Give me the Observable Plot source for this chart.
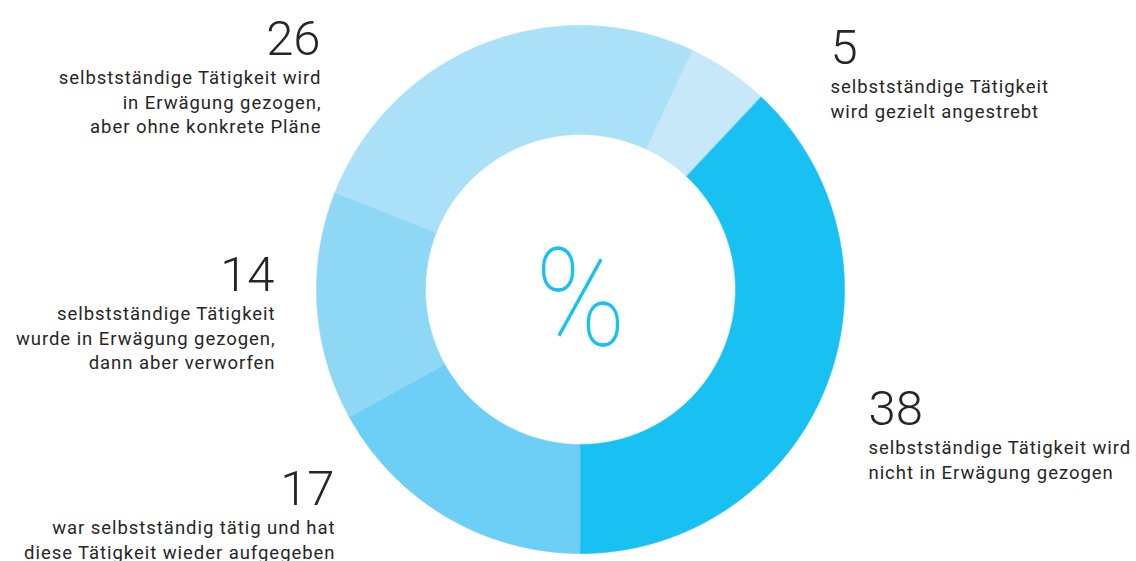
<!DOCTYPE html>
<html>
<head>
<meta charset="utf-8">
<script src="https://cdn.jsdelivr.net/npm/d3@7"></script>
<script src="https://cdn.jsdelivr.net/npm/@observablehq/plot@0.6"></script>
<style>
  html, body { margin: 0; padding: 0; background: #fff; }
  #chart svg { display: block; }
</style>
</head>
<body>
<div id="chart"></div>
<script>
// ---- data (clockwise, starting at 6 o'clock) ----
const categories = [
  "war selbstständig tätig und hat\ndiese Tätigkeit wieder aufgegeben",
  "selbstständige Tätigkeit\nwurde in Erwägung gezogen,\ndann aber verworfen",
  "selbstständige Tätigkeit wird\nin Erwägung gezogen,\naber ohne konkrete Pläne",
  "selbstständige Tätigkeit\nwird gezielt angestrebt",
  "selbstständige Tätigkeit wird\nnicht in Erwägung gezogen"
];
const values = [17, 14, 26, 5, 38];
const colors = ["#6dcff5", "#8ed8f6", "#abe0f9", "#c6e8f8", "#18c1f1"];

// ---- layout (pixels) ----
const W = 1136, H = 561;
const cx = 580, cy = 289, R = 264, r = 155;
// label anchors: x, baseline of the number, alignment
const labelPos = [
  {x: 334, y: 504, anchor: "end"},
  {x: 274, y: 290, anchor: "end"},
  {x: 320, y: 54, anchor: "end"},
  {x: 830, y: 63, anchor: "start"},
  {x: 868, y: 424, anchor: "start"}
];

// ---- build slice polygons from values ----
const total = d3.sum(values);
const pts = [];
let acc = 0;
values.forEach((v, i) => {
  const a0 = Math.PI + acc / total * 2 * Math.PI;
  acc += v;
  const a1 = Math.PI + acc / total * 2 * Math.PI;
  const n = Math.max(8, Math.ceil((a1 - a0) / 0.01));
  for (let k = 0; k <= n; k++) {
    const a = a0 + (a1 - a0) * k / n;
    pts.push({cat: categories[i], x: cx + R * Math.sin(a), y: cy - R * Math.cos(a)});
  }
  for (let k = n; k >= 0; k--) {
    const a = a0 + (a1 - a0) * k / n;
    pts.push({cat: categories[i], x: cx + r * Math.sin(a), y: cy - r * Math.cos(a)});
  }
});

const labels = values.map((v, i) => ({
  value: String(v), text: categories[i], ...labelPos[i]
}));
const labelsEnd = labels.filter(d => d.anchor === "end");
const labelsStart = labels.filter(d => d.anchor === "start");

const textColor = "#262626";
const numberMarks = (data, anchor) => Plot.text(data, {
  x: "x", y: "y", text: "value", textAnchor: anchor, fontSize: 49, fontWeight: 300,
  fill: textColor, lineAnchor: "bottom"
});
const descMarks = (data, anchor) => Plot.text(data, {
  x: d => d.x + (anchor === "end" ? 1 : 0), y: d => d.y + 12, text: "text", textAnchor: anchor, fontSize: 18.5,
  lineHeight: 1.33, fill: textColor, lineAnchor: "top"
});

const chart = Plot.plot({
  width: W, height: H,
  margin: 0,
  x: {domain: [0, W], range: [0, W], axis: null},
  y: {domain: [0, H], range: [0, H], axis: null},
  color: {domain: categories, range: colors},
  style: {background: "#fff", fontFamily: "Roboto, 'Open Sans', sans-serif"},
  marks: [
    Plot.line(pts, {x: "x", y: "y", z: "cat", fill: "cat", stroke: "cat", strokeWidth: 0.6, curve: "linear-closed"}),
    Plot.text(["%"], {x: [cx], y: [cy], text: d => d, fontSize: 138, fontWeight: 100, fill: "#18c1f1",
      fontFamily: "Roboto, sans-serif", lineAnchor: "middle", dy: 12}),
    numberMarks(labelsEnd, "end"),
    numberMarks(labelsStart, "start"),
    descMarks(labelsEnd, "end"),
    descMarks(labelsStart, "start")
  ]
});
// wider tracking for the description text (reference font runs wider)
chart.querySelectorAll('g[font-size="18.5"]').forEach(g => g.setAttribute("letter-spacing", "0.95"));
// narrow the percent glyph horizontally
chart.querySelectorAll('g[font-size="138"] text').forEach(el => {
  const t = el.getAttribute("transform") || "";
  el.setAttribute("transform", t + " scale(0.88,1)");
});
document.getElementById("chart").appendChild(chart);
</script>
</body>
</html>
